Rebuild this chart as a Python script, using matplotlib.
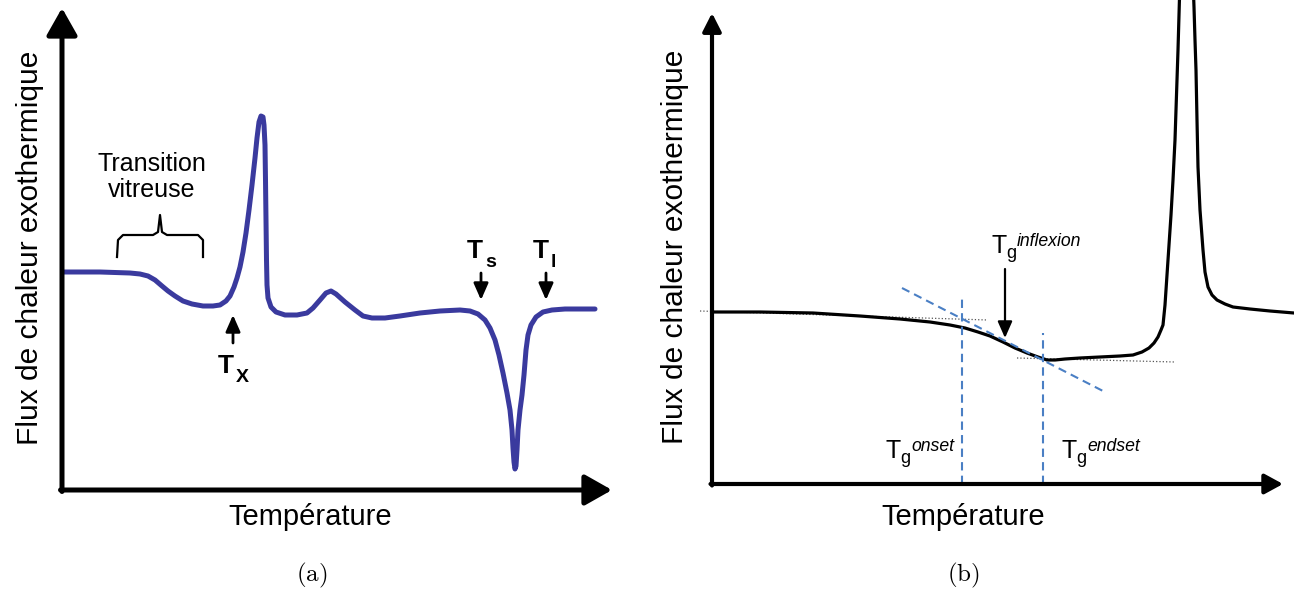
import matplotlib
matplotlib.use("Agg")
import matplotlib.pyplot as plt

plt.rcParams["font.family"] = ["Liberation Sans", "DejaVu Sans"]

# ── data (a): DSC curve of a metallic glass, arbitrary units ────────────────
temp_a = [0, 38, 68, 78, 86, 93, 100, 106, 113, 121, 130, 141, 151, 158,
          164, 168, 172, 175, 178, 181, 184, 187, 190, 193, 195, 197, 199,
          201, 202, 203, 203.5, 204, 204.5, 205, 206, 209, 214, 223, 235,
          245, 251, 258, 264, 269, 274, 283, 293, 301, 310, 323, 338, 358,
          378, 398, 408, 416, 423, 428, 433, 437, 441, 445, 448, 450, 451,
          452, 453, 454, 455, 456, 458, 460, 462, 464, 466, 469, 474, 481,
          490, 503, 518, 533]
flux_a = [218, 218, 217, 216, 214, 210, 204, 199, 194, 189, 186, 184, 184,
          185, 189, 194, 203, 212, 223, 238, 257, 280, 305, 332, 352, 368,
          374, 373, 365, 345, 310, 270, 230, 205, 192, 183, 178, 175, 175,
          177, 182, 190, 197, 199, 196, 188, 180, 174, 172, 172, 174, 177,
          179, 180, 179, 176, 170, 162, 150, 135, 117, 97, 80, 60, 42, 28,
          21, 24, 40, 60, 80, 95, 115, 140, 155, 165, 173, 178, 180, 181,
          181, 181]

brace_x = [55, 56, 61, 91, 96, 98, 100, 105, 136, 141, 141]
brace_y = [233, 250, 255, 255, 258, 275, 258, 255, 255, 250, 233]

# (label, sub, T x, T baseline, arrow x, arrow tail, arrow tip)
marks_a = [("T", "X", 156, 117, 171, 147, 175),
           ("T", "s", 405, 232, 419, 217, 190),
           ("T", "l", 471, 232, 484, 217, 190)]

# ── data (b): glass transition + crystallisation peak ───────────────────────
temp_b = [0, 48, 101, 148, 188, 218, 238, 253, 266, 278, 291, 303, 315,
          326, 335, 343, 353, 368, 388, 408, 421, 430, 437, 442, 446, 449,
          451, 453, 455, 457, 459, 461, 463, 464, 465, 466, 467, 468, 481,
          482, 483, 484, 485, 486, 488, 491, 493, 496, 500, 505, 513, 521,
          538, 558, 582]
flux_b = [172, 172, 171, 168, 165, 162, 159, 156, 152, 148, 142, 136, 131,
          127, 124, 124, 125, 126, 127, 128, 129, 132, 136, 141, 147, 154,
          159, 179, 209, 239, 269, 304, 344, 374, 404, 434, 469, 504, 504,
          477, 444, 414, 364, 317, 274, 234, 212, 197, 189, 184, 180, 177,
          175, 173, 171]

tangent_x = [190, 391]
tangent_y = [196, 93]
base_hi_x, base_hi_y = [-12, 276], [173, 164]
base_lo_x, base_lo_y = [305, 463], [126, 122]
tg_onset, tg_onset_top = 250, 189
tg_endset, tg_endset_top = 331, 151
tg_infl, infl_tail, infl_tip = 293, 215, 146

# (superscript, T x, T baseline)
tg_labels = [("inflexion", 280, 231), ("onset", 174, 26), ("endset", 350, 26)]

W, H = 1294, 592
fig = plt.figure(figsize=(W / 100, H / 100), dpi=100)

# ── panel (a) ───────────────────────────────────────────────────────────────
ax = fig.add_axes([62 / W, (H - 490) / H, 550 / W, 490 / H])
ax.set_xlim(0, 550)
ax.set_ylim(0, 490)
ax.axis("off")

ax.plot(temp_a, flux_a, color="#3a3a9e", lw=3.6, solid_capstyle="round",
        solid_joinstyle="round")

ax.annotate("", xy=(0, 482), xytext=(0, -1.5),
            arrowprops=dict(arrowstyle="-|>,head_length=0.83,head_width=0.47",
                            lw=3.6, color="black", mutation_scale=20,
                            shrinkA=0, shrinkB=0))
ax.annotate("", xy=(550, 0), xytext=(-1.5, 0),
            arrowprops=dict(arrowstyle="-|>,head_length=0.83,head_width=0.47",
                            lw=3.6, color="black", mutation_scale=20,
                            shrinkA=0, shrinkB=0))

ax.plot(brace_x, brace_y, color="black", lw=1.6, solid_joinstyle="round")
ax.text(90, 313, "Transition\nvitreuse", ha="center", va="center",
        fontsize=18, linespacing=1.1)

for lab, sub, tx, ty, axx, a0, a1 in marks_a:
    ax.text(tx, ty, lab, fontsize=19, fontweight="bold", ha="left",
            va="baseline")
    ax.text(tx + 18, ty - 9, sub, fontsize=14, fontweight="bold", ha="left",
            va="baseline")
    ax.annotate("", xy=(axx, a1), xytext=(axx, a0),
                arrowprops=dict(arrowstyle="-|>,head_length=0.5,head_width=0.22",
                                lw=2, color="black", mutation_scale=20,
                                shrinkA=0, shrinkB=0))

ax.text(-32, 242, "Flux de chaleur exothermique", rotation=90, ha="center",
        va="center", fontsize=21.5)
ax.text(248, -27, "Température", ha="center", va="center", fontsize=21)
ax.text(250, -85, r"$(\mathrm{a})$", ha="center", va="center", fontsize=18,
        math_fontfamily="cm")

# ── panel (b) ───────────────────────────────────────────────────────────────
bx = fig.add_axes([712 / W, (H - 484) / H, (W - 712) / W, 484 / H])
bx.set_xlim(0, W - 712)
bx.set_ylim(0, 484)
bx.axis("off")

bx.plot(base_hi_x, base_hi_y, color="#555555", lw=0.9, ls=":", clip_on=False)
bx.plot(base_lo_x, base_lo_y, color="#555555", lw=0.9, ls=":")
bx.plot(temp_b, flux_b, color="black", lw=2.3, solid_joinstyle="round")
bx.plot(tangent_x, tangent_y, color="#4a7fc4", lw=1.5, dashes=(4, 2.5))
bx.plot([tg_onset, tg_onset], [0, tg_onset_top], color="#4a7fc4", lw=1.5,
        dashes=(4, 2.5))
bx.plot([tg_endset, tg_endset], [0, tg_endset_top], color="#4a7fc4", lw=1.5,
        dashes=(4, 2.5))

bx.annotate("", xy=(0, 471), xytext=(0, -1.5),
            arrowprops=dict(arrowstyle="-|>,head_length=0.55,head_width=0.28",
                            lw=3.0, color="black", mutation_scale=20,
                            shrinkA=0, shrinkB=0))
bx.annotate("", xy=(571, 0), xytext=(-1.5, 0),
            arrowprops=dict(arrowstyle="-|>,head_length=0.55,head_width=0.3",
                            lw=3.0, color="black", mutation_scale=20,
                            shrinkA=0, shrinkB=0))
bx.annotate("", xy=(tg_infl, infl_tip), xytext=(tg_infl, infl_tail),
            arrowprops=dict(arrowstyle="-|>,head_length=0.5,head_width=0.22",
                            lw=1.6, color="black", mutation_scale=20,
                            shrinkA=0, shrinkB=0))

for sup, tx, ty in tg_labels:
    bx.text(tx, ty, "T", fontsize=18, ha="left", va="baseline")
    bx.text(tx + 14, ty - 5, "g", fontsize=13, ha="left", va="baseline")
    bx.text(tx + 25, ty + 7, sup, fontsize=12.7, style="italic", ha="left",
            va="baseline")

bx.text(-37, 237, "Flux de chaleur exothermique", rotation=90, ha="center",
        va="center", fontsize=21.5)
bx.text(251, -33, "Température", ha="center", va="center", fontsize=21)
bx.text(251, -91, r"$(\mathrm{b})$", ha="center", va="center", fontsize=18,
        math_fontfamily="cm")

fig.savefig("out.png", dpi=100)
